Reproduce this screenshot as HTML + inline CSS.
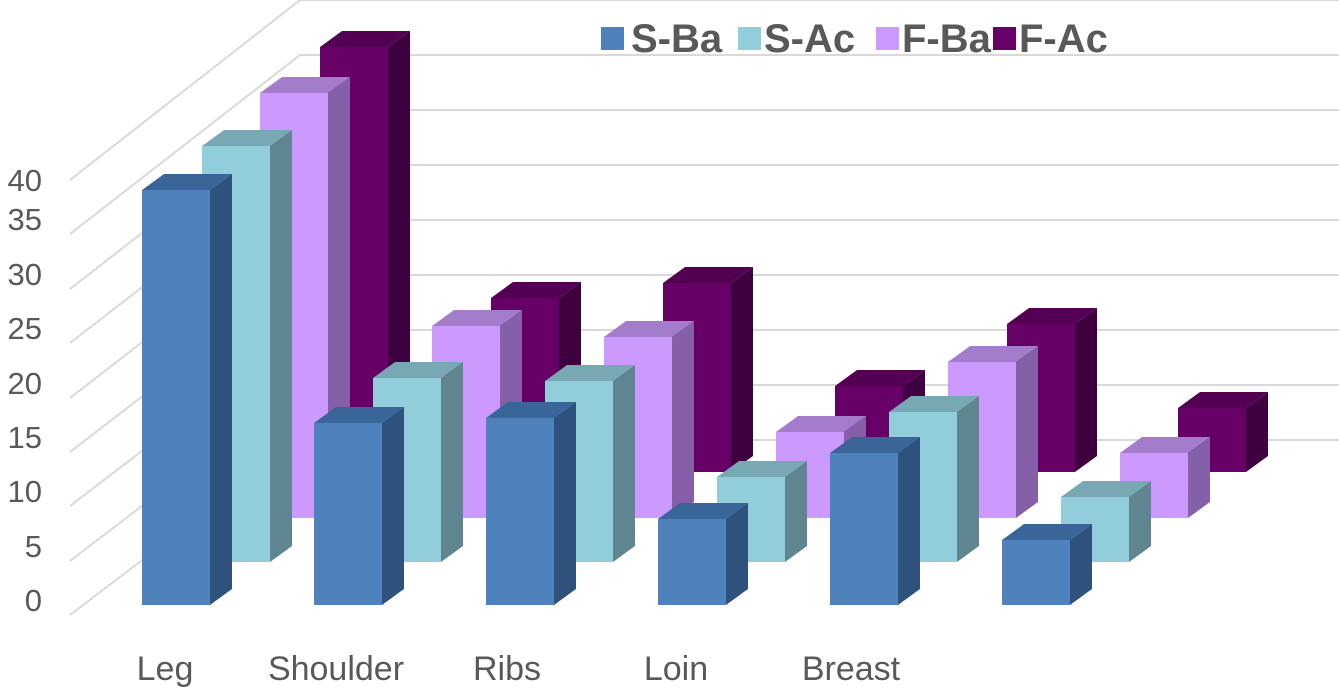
<!DOCTYPE html>
<html><head><meta charset="utf-8"><style>
body{margin:0;background:#fff;}
svg{display:block;font-family:"Liberation Sans",Arial,sans-serif;}
</style></head><body>
<svg width="1339" height="688" viewBox="0 0 1339 688" xmlns="http://www.w3.org/2000/svg">
<g stroke="#d9d9d9" stroke-width="2" fill="none">
<polyline points="70,615 300,440 1339,440"/>
<polyline points="70,561 300,385 1339,385"/>
<polyline points="70,506 300,330 1339,330"/>
<polyline points="70,452 300,275 1339,275"/>
<polyline points="70,398 300,220 1339,220"/>
<polyline points="70,343 300,165 1339,165"/>
<polyline points="70,289 300,110 1339,110"/>
<polyline points="70,234 300,55 1339,55"/>
<polyline points="70,180 300,0 1339,0"/>
</g>
<g>
<polygon fill="#3f003f" points="388,47 410,31 410,456 388,472"/><polygon fill="#530053" points="320,47 342,31 410,31 388,47"/><rect fill="#660066" x="320" y="47" width="68" height="425"/>
<polygon fill="#3f003f" points="559,298 581,282 581,456 559,472"/><polygon fill="#530053" points="491,298 513,282 581,282 559,298"/><rect fill="#660066" x="491" y="298" width="68" height="174"/>
<polygon fill="#3f003f" points="731,283 753,267 753,456 731,472"/><polygon fill="#530053" points="663,283 685,267 753,267 731,283"/><rect fill="#660066" x="663" y="283" width="68" height="189"/>
<polygon fill="#3f003f" points="903,386 925,370 925,456 903,472"/><polygon fill="#530053" points="835,386 857,370 925,370 903,386"/><rect fill="#660066" x="835" y="386" width="68" height="86"/>
<polygon fill="#3f003f" points="1075,324 1097,308 1097,456 1075,472"/><polygon fill="#530053" points="1007,324 1029,308 1097,308 1075,324"/><rect fill="#660066" x="1007" y="324" width="68" height="148"/>
<polygon fill="#3f003f" points="1246,408 1268,392 1268,456 1246,472"/><polygon fill="#530053" points="1178,408 1200,392 1268,392 1246,408"/><rect fill="#660066" x="1178" y="408" width="68" height="64"/>
</g>
<g>
<polygon fill="#8560a8" points="328,93 350,77 350,502 328,518"/><polygon fill="#a47ccc" points="260,93 282,77 350,77 328,93"/><rect fill="#cc99ff" x="260" y="93" width="68" height="425"/>
<polygon fill="#8560a8" points="500,326 522,310 522,502 500,518"/><polygon fill="#a47ccc" points="432,326 454,310 522,310 500,326"/><rect fill="#cc99ff" x="432" y="326" width="68" height="192"/>
<polygon fill="#8560a8" points="672,337 694,321 694,502 672,518"/><polygon fill="#a47ccc" points="604,337 626,321 694,321 672,337"/><rect fill="#cc99ff" x="604" y="337" width="68" height="181"/>
<polygon fill="#8560a8" points="844,432 866,416 866,502 844,518"/><polygon fill="#a47ccc" points="776,432 798,416 866,416 844,432"/><rect fill="#cc99ff" x="776" y="432" width="68" height="86"/>
<polygon fill="#8560a8" points="1016,362 1038,346 1038,502 1016,518"/><polygon fill="#a47ccc" points="948,362 970,346 1038,346 1016,362"/><rect fill="#cc99ff" x="948" y="362" width="68" height="156"/>
<polygon fill="#8560a8" points="1188,453 1210,437 1210,502 1188,518"/><polygon fill="#a47ccc" points="1120,453 1142,437 1210,437 1188,453"/><rect fill="#cc99ff" x="1120" y="453" width="68" height="65"/>
</g>
<g>
<polygon fill="#5e8590" points="270,146 292,130 292,546 270,562"/><polygon fill="#78a8b4" points="202,146 224,130 292,130 270,146"/><rect fill="#92cddc" x="202" y="146" width="68" height="416"/>
<polygon fill="#5e8590" points="441,378 463,362 463,546 441,562"/><polygon fill="#78a8b4" points="373,378 395,362 463,362 441,378"/><rect fill="#92cddc" x="373" y="378" width="68" height="184"/>
<polygon fill="#5e8590" points="613,381 635,365 635,546 613,562"/><polygon fill="#78a8b4" points="545,381 567,365 635,365 613,381"/><rect fill="#92cddc" x="545" y="381" width="68" height="181"/>
<polygon fill="#5e8590" points="785,477 807,461 807,546 785,562"/><polygon fill="#78a8b4" points="717,477 739,461 807,461 785,477"/><rect fill="#92cddc" x="717" y="477" width="68" height="85"/>
<polygon fill="#5e8590" points="957,412 979,396 979,546 957,562"/><polygon fill="#78a8b4" points="889,412 911,396 979,396 957,412"/><rect fill="#92cddc" x="889" y="412" width="68" height="150"/>
<polygon fill="#5e8590" points="1129,497 1151,481 1151,546 1129,562"/><polygon fill="#78a8b4" points="1061,497 1083,481 1151,481 1129,497"/><rect fill="#92cddc" x="1061" y="497" width="68" height="65"/>
</g>
<g>
<polygon fill="#2f527c" points="210,190 232,174 232,589 210,605"/><polygon fill="#3a6599" points="142,190 164,174 232,174 210,190"/><rect fill="#4f81bd" x="142" y="190" width="68" height="415"/>
<polygon fill="#2f527c" points="382,423 404,407 404,589 382,605"/><polygon fill="#3a6599" points="314,423 336,407 404,407 382,423"/><rect fill="#4f81bd" x="314" y="423" width="68" height="182"/>
<polygon fill="#2f527c" points="554,418 576,402 576,589 554,605"/><polygon fill="#3a6599" points="486,418 508,402 576,402 554,418"/><rect fill="#4f81bd" x="486" y="418" width="68" height="187"/>
<polygon fill="#2f527c" points="726,519 748,503 748,589 726,605"/><polygon fill="#3a6599" points="658,519 680,503 748,503 726,519"/><rect fill="#4f81bd" x="658" y="519" width="68" height="86"/>
<polygon fill="#2f527c" points="898,453 920,437 920,589 898,605"/><polygon fill="#3a6599" points="830,453 852,437 920,437 898,453"/><rect fill="#4f81bd" x="830" y="453" width="68" height="152"/>
<polygon fill="#2f527c" points="1070,540 1092,524 1092,589 1070,605"/><polygon fill="#3a6599" points="1002,540 1024,524 1092,524 1070,540"/><rect fill="#4f81bd" x="1002" y="540" width="68" height="65"/>
</g>
<g fill="#595959" font-size="31" text-anchor="end">
<text x="42" y="611">0</text><text x="42" y="557">5</text><text x="42" y="502">10</text>
<text x="42" y="448">15</text><text x="42" y="394">20</text><text x="42" y="339">25</text>
<text x="42" y="285">30</text><text x="42" y="230">35</text><text x="42" y="191">40</text>
</g>
<g fill="#595959" font-size="34" text-anchor="middle">
<text x="165" y="680">Leg</text><text x="336" y="680">Shoulder</text><text x="507" y="680">Ribs</text>
<text x="676" y="680">Loin</text><text x="851" y="680">Breast</text>
</g>
<g font-size="40" font-weight="bold" fill="#595959">
<rect x="601" y="27" width="23" height="23" fill="#4f81bd"/><text x="631" y="52">S-Ba</text>
<rect x="738" y="27" width="23" height="23" fill="#92cddc"/><text x="764" y="52">S-Ac</text>
<rect x="876" y="27" width="23" height="23" fill="#cc99ff"/><text x="902" y="52">F-Ba</text>
<rect x="993" y="27" width="23" height="23" fill="#660066"/><text x="1019" y="52">F-Ac</text>
</g>
</svg>
</body></html>
